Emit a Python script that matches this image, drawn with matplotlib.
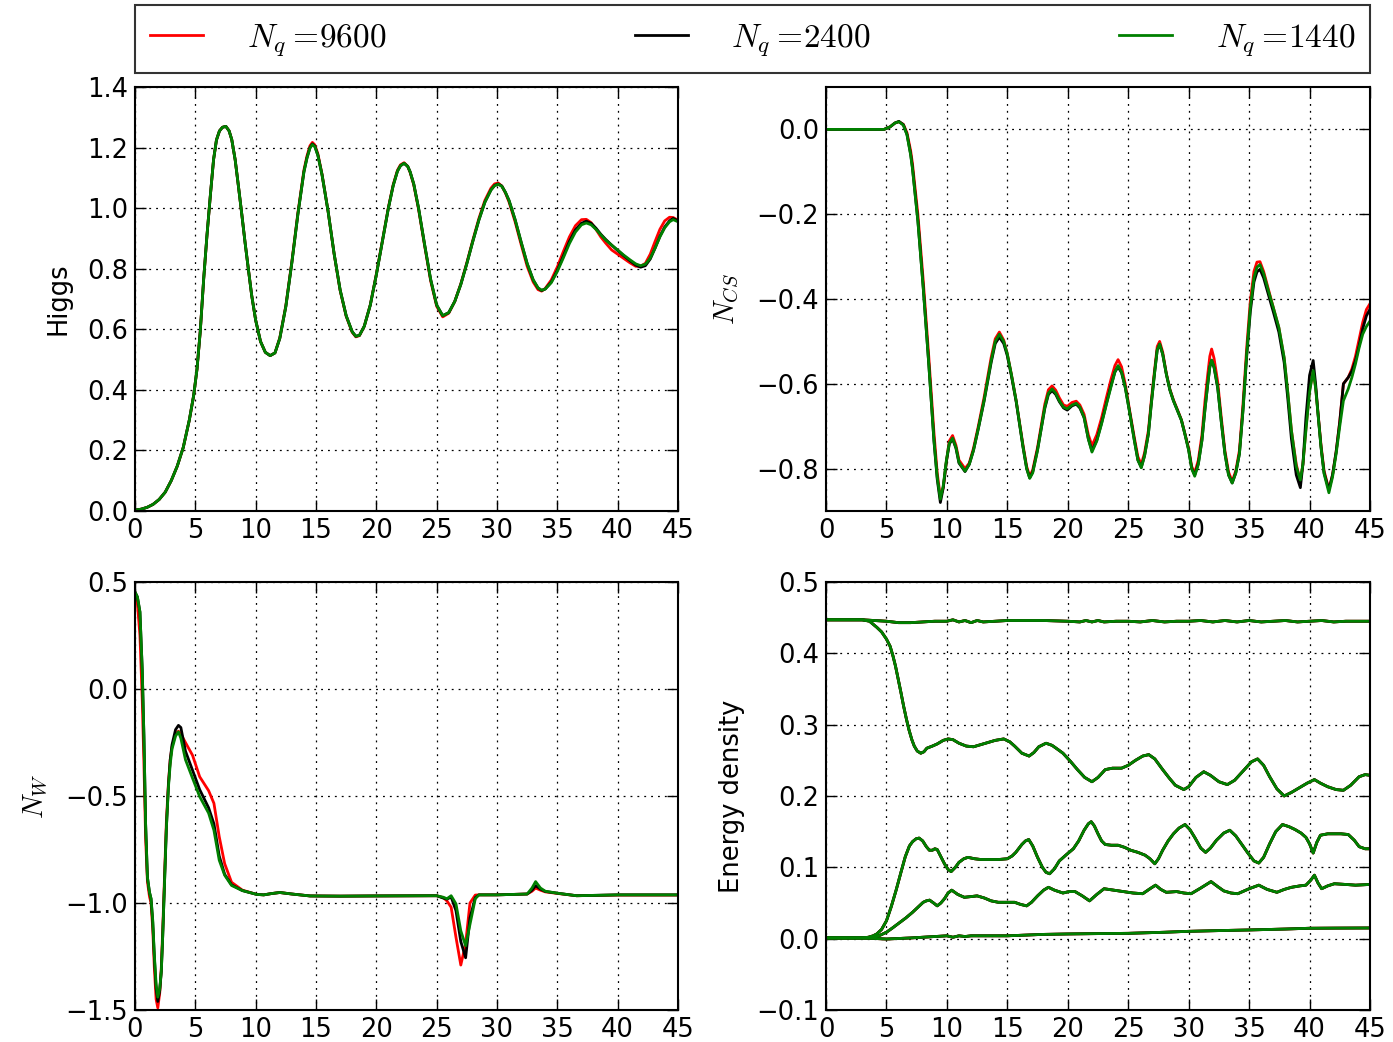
import matplotlib
matplotlib.use("Agg")
from matplotlib import pyplot as plt

plt.rcParams['mathtext.fontset'] = 'cm'
plt.rcParams['font.family'] = ['DejaVu Sans']

labels = ['$N_q =\\!9600$', '$N_q =\\!2400$', '$N_q =\\!1440$']
colors = ['red', 'black', 'green']

# ---------------- Higgs ----------------
t_higgs = [0, 0.5, 1, 1.5, 2, 2.5, 3, 3.5, 4, 4.5, 4.86, 5.14, 5.41, 5.69, 5.96, 6.24, 6.51, 6.75, 7.0, 7.25, 7.53,
           7.8, 8.02, 8.3, 8.57, 8.85, 9.12, 9.4, 9.67, 10.0, 10.4, 10.8, 11.2, 11.6, 12.0, 12.5, 13.0, 13.5, 14.0,
           14.25, 14.5, 14.7, 14.9, 15.15, 15.5, 16.0, 16.5, 17.0, 17.5, 18.0, 18.3, 18.6, 19.0, 19.5, 20.0, 20.5, 21.0,
           21.4, 21.75, 22.0, 22.3, 22.6, 22.8, 23.1, 23.5, 24.0, 24.5, 25.0, 25.5, 26.0, 26.5, 27.0, 27.5, 28.0, 28.5,
           29.0, 29.5, 29.8, 30.1, 30.4, 30.7, 31.0, 31.5, 32.0, 32.5, 33.0, 33.4, 33.7, 34.0, 34.5, 35.0, 35.5, 36.0,
           36.5, 37.0, 37.4, 37.8, 38.2, 38.6, 39.0, 39.5, 40.0, 40.5, 41.0, 41.5, 41.9, 42.3, 42.7, 43.1, 43.5, 43.9,
           44.3, 44.6, 45]
higgs_green = [0.003, 0.006, 0.012, 0.022, 0.038, 0.062, 0.1, 0.148, 0.21, 0.3, 0.381, 0.469, 0.594, 0.765, 0.908, 1.04, 1.16, 1.225, 1.255, 1.267, 1.27,
               1.255, 1.226, 1.16, 1.073, 0.98, 0.887, 0.797, 0.712, 0.63, 0.56, 0.524, 0.513, 0.522, 0.57, 0.675, 0.82, 0.98, 1.12,
               1.165, 1.198, 1.21, 1.203, 1.175, 1.11, 0.99, 0.85, 0.73, 0.645, 0.592, 0.577, 0.58, 0.61, 0.68, 0.78, 0.89, 1.0,
               1.075, 1.122, 1.14, 1.148, 1.138, 1.12, 1.08, 1.0, 0.88, 0.765, 0.68, 0.645, 0.655, 0.692, 0.748, 0.817, 0.891, 0.961,
               1.02, 1.06, 1.074, 1.079, 1.072, 1.052, 1.025, 0.962, 0.888, 0.817, 0.763, 0.737, 0.729, 0.733, 0.754, 0.791, 0.836, 0.883,
               0.921, 0.945, 0.951, 0.945, 0.93, 0.912, 0.895, 0.878, 0.862, 0.845, 0.83, 0.816, 0.81, 0.815, 0.835, 0.868, 0.905, 0.935,
               0.955, 0.962, 0.955]
higgs_black = [0.003, 0.006, 0.012, 0.022, 0.038, 0.062, 0.1, 0.148, 0.21, 0.3, 0.381, 0.469, 0.594, 0.765, 0.908, 1.04, 1.16, 1.225, 1.255, 1.267, 1.27,
               1.255, 1.226, 1.16, 1.073, 0.98, 0.887, 0.797, 0.712, 0.63, 0.56, 0.524, 0.513, 0.522, 0.57, 0.675, 0.82, 0.98, 1.12,
               1.166, 1.2, 1.212, 1.205, 1.176, 1.11, 0.99, 0.85, 0.73, 0.645, 0.592, 0.577, 0.58, 0.61, 0.68, 0.78, 0.89, 1.0,
               1.075, 1.122, 1.14, 1.148, 1.138, 1.12, 1.08, 1.0, 0.88, 0.765, 0.68, 0.645, 0.655, 0.692, 0.748, 0.817, 0.891, 0.961,
               1.02, 1.06, 1.075, 1.08, 1.073, 1.052, 1.025, 0.962, 0.888, 0.817, 0.763, 0.736, 0.728, 0.733, 0.756, 0.795, 0.842, 0.89,
               0.928, 0.95, 0.957, 0.95, 0.934, 0.914, 0.897, 0.878, 0.86, 0.843, 0.827, 0.812, 0.805, 0.81, 0.832, 0.868, 0.907, 0.938,
               0.958, 0.966, 0.958]
higgs_red = [0.003, 0.006, 0.012, 0.022, 0.038, 0.062, 0.1, 0.148, 0.21, 0.3, 0.381, 0.469, 0.594, 0.765, 0.908, 1.04, 1.16, 1.225, 1.255, 1.267, 1.27,
             1.255, 1.226, 1.16, 1.073, 0.98, 0.887, 0.797, 0.712, 0.63, 0.56, 0.524, 0.513, 0.522, 0.572, 0.678, 0.824, 0.985, 1.126,
             1.172, 1.206, 1.217, 1.209, 1.18, 1.112, 0.99, 0.849, 0.728, 0.643, 0.59, 0.575, 0.579, 0.61, 0.681, 0.782, 0.892, 1.003,
             1.078, 1.125, 1.143, 1.15, 1.138, 1.118, 1.077, 0.996, 0.876, 0.76, 0.676, 0.641, 0.653, 0.692, 0.75, 0.82, 0.895, 0.966,
             1.026, 1.066, 1.08, 1.083, 1.073, 1.05, 1.02, 0.955, 0.88, 0.808, 0.756, 0.731, 0.726, 0.735, 0.763, 0.806, 0.857, 0.905,
             0.942, 0.962, 0.963, 0.952, 0.93, 0.905, 0.885, 0.862, 0.848, 0.834, 0.82, 0.808, 0.808, 0.818, 0.848, 0.89, 0.93, 0.958,
             0.97, 0.969, 0.96]

# ---------------- N_CS ----------------
t_ncs = [0, 2, 4, 4.8, 5.3, 5.7, 6.03, 6.4, 6.7, 7.0, 7.15, 7.6, 8.04, 8.5, 8.93, 9.2, 9.46, 9.7, 9.96,
         10.2, 10.47, 10.75, 11.0, 11.5, 11.85, 12.2, 12.6, 13.07, 13.66, 14.0, 14.34, 14.7, 15.0, 15.35,
         15.73, 16.3, 16.6, 16.85, 17.1, 17.5, 18.1, 18.4, 18.7, 19.0, 19.3, 19.65, 19.96, 20.35, 20.7,
         21.0, 21.35, 21.7, 22.0, 22.4, 22.8, 23.2, 23.57, 23.9, 24.16, 24.45, 24.75, 25.1, 25.5, 25.8,
         26.08, 26.35, 26.67, 26.9, 27.17, 27.4, 27.6, 27.85, 28.15, 28.45, 28.74, 29.1, 29.4, 29.7, 30.0,
         30.25, 30.5, 30.8, 31.1, 31.35, 31.55, 31.75, 31.9, 32.1, 32.4, 32.7, 33.0, 33.3, 33.6, 33.9,
         34.2, 34.5, 34.8, 35.1, 35.4, 35.65, 35.9, 36.2, 36.6, 37.0, 37.46, 37.9, 38.2, 38.5, 38.9,
         39.24, 39.45, 39.7, 40.0, 40.3, 40.5, 40.7, 40.95, 41.2, 41.6, 41.9, 42.2, 42.5, 42.8, 43.2,
         43.5, 43.8, 44.1, 44.4, 44.7, 45.0]
ncs_green = [0.0, 0.0, 0.0, 0.0, 0.006, 0.015, 0.018, 0.01, -0.013, -0.06, -0.092, -0.217, -0.373, -0.553, -0.733, -0.82, -0.872, -0.84, -0.78,
             -0.74, -0.728, -0.75, -0.785, -0.806, -0.79, -0.757, -0.705, -0.64, -0.546, -0.5, -0.483, -0.5, -0.53, -0.58,
             -0.64, -0.749, -0.8, -0.823, -0.81, -0.757, -0.655, -0.622, -0.612, -0.622, -0.64, -0.655, -0.659, -0.65, -0.646,
             -0.655, -0.679, -0.73, -0.761, -0.735, -0.694, -0.648, -0.608, -0.572, -0.557, -0.572, -0.608, -0.665, -0.733, -0.78,
             -0.798, -0.77, -0.718, -0.65, -0.577, -0.52, -0.506, -0.53, -0.577, -0.615, -0.64, -0.665, -0.686, -0.72, -0.757,
             -0.8, -0.818, -0.79, -0.733, -0.66, -0.608, -0.56, -0.544, -0.56, -0.608, -0.69, -0.765, -0.815, -0.834, -0.81,
             -0.765, -0.66, -0.53, -0.42, -0.35, -0.325, -0.319, -0.34, -0.381, -0.42, -0.467, -0.538, -0.62, -0.71, -0.795,
             -0.827, -0.79, -0.71, -0.62, -0.569, -0.61, -0.671, -0.75, -0.812, -0.857, -0.82, -0.765, -0.7, -0.64, -0.612,
             -0.585, -0.553, -0.515, -0.483, -0.465, -0.452]
ncs_black = [0.0, 0.0, 0.0, 0.0, 0.006, 0.015, 0.019, 0.011, -0.012, -0.058, -0.09, -0.215, -0.372, -0.553, -0.735, -0.825, -0.88, -0.845, -0.783,
             -0.742, -0.73, -0.752, -0.787, -0.807, -0.79, -0.757, -0.706, -0.642, -0.55, -0.505, -0.49, -0.505, -0.534, -0.583,
             -0.642, -0.75, -0.8, -0.822, -0.808, -0.755, -0.658, -0.625, -0.616, -0.625, -0.642, -0.657, -0.662, -0.652, -0.648,
             -0.657, -0.68, -0.73, -0.758, -0.733, -0.692, -0.646, -0.605, -0.572, -0.56, -0.574, -0.608, -0.664, -0.732, -0.78,
             -0.797, -0.77, -0.718, -0.65, -0.577, -0.52, -0.507, -0.53, -0.577, -0.615, -0.64, -0.665, -0.686, -0.72, -0.756,
             -0.8, -0.815, -0.788, -0.733, -0.66, -0.608, -0.56, -0.545, -0.562, -0.61, -0.69, -0.765, -0.815, -0.834, -0.81,
             -0.765, -0.66, -0.535, -0.43, -0.36, -0.336, -0.33, -0.35, -0.39, -0.43, -0.478, -0.55, -0.635, -0.73, -0.815,
             -0.845, -0.79, -0.68, -0.58, -0.545, -0.6, -0.67, -0.75, -0.81, -0.85, -0.815, -0.76, -0.69, -0.6, -0.585,
             -0.57, -0.545, -0.51, -0.47, -0.44, -0.424]
ncs_red = [0.0, 0.0, 0.0, 0.0, 0.006, 0.015, 0.018, 0.012, -0.008, -0.05, -0.08, -0.2, -0.355, -0.535, -0.715, -0.81, -0.868, -0.845, -0.783,
           -0.735, -0.722, -0.745, -0.78, -0.8, -0.787, -0.752, -0.7, -0.633, -0.538, -0.494, -0.478, -0.497, -0.53, -0.58,
           -0.64, -0.745, -0.795, -0.818, -0.803, -0.75, -0.648, -0.614, -0.605, -0.615, -0.633, -0.65, -0.653, -0.644, -0.641,
           -0.65, -0.672, -0.72, -0.746, -0.72, -0.68, -0.632, -0.59, -0.557, -0.543, -0.56, -0.6, -0.66, -0.726, -0.772,
           -0.79, -0.763, -0.71, -0.642, -0.57, -0.512, -0.5, -0.525, -0.575, -0.613, -0.638, -0.663, -0.685, -0.718, -0.752,
           -0.795, -0.81, -0.78, -0.72, -0.64, -0.585, -0.535, -0.518, -0.54, -0.595, -0.68, -0.758, -0.808, -0.83, -0.805,
           -0.757, -0.645, -0.515, -0.405, -0.335, -0.313, -0.312, -0.335, -0.378, -0.42, -0.468, -0.54, -0.622, -0.71, -0.79,
           -0.83, -0.79, -0.705, -0.615, -0.57, -0.608, -0.668, -0.745, -0.805, -0.85, -0.815, -0.76, -0.688, -0.6, -0.585,
           -0.565, -0.535, -0.495, -0.455, -0.425, -0.411]

# ---------------- N_W ----------------
t_nw = [0, 0.2, 0.41, 0.6, 0.74, 0.88, 1.03, 1.2, 1.33, 1.47, 1.6, 1.75, 1.89, 2.05, 2.18, 2.3, 2.48, 2.6, 2.77,
        2.92, 3.07, 3.36, 3.6, 3.8, 4.18, 4.77, 5.36, 6.1, 6.54, 6.98, 7.43, 8.0, 8.9, 10.1, 10.67, 11.3, 12.0,
        13.0, 14.5, 17.0, 20.0, 25.0, 25.55, 25.85, 26.2, 26.6, 27.0, 27.4, 27.76, 28.2, 28.5, 30.0, 32.5,
        32.9, 33.2, 33.6, 34.0, 35.1, 36.6, 40.0, 45.0]
nw_green = [0.453, 0.43, 0.36, 0.09, -0.22, -0.63, -0.88, -0.95, -0.98, -1.08, -1.24, -1.38, -1.44, -1.4, -1.32, -1.15, -0.85, -0.65, -0.46,
            -0.35, -0.28, -0.22, -0.2, -0.23, -0.33, -0.417, -0.503, -0.58, -0.66, -0.8, -0.87, -0.918, -0.942, -0.96, -0.962, -0.956, -0.951,
            -0.958, -0.967, -0.968, -0.967, -0.966, -0.973, -0.98, -0.966, -1.004, -1.13, -1.2, -1.1, -0.98, -0.962, -0.962, -0.958,
            -0.93, -0.9, -0.93, -0.945, -0.955, -0.966, -0.962, -0.962]
nw_black = [0.453, 0.43, 0.36, 0.09, -0.22, -0.63, -0.88, -0.95, -0.98, -1.09, -1.25, -1.4, -1.46, -1.41, -1.32, -1.15, -0.85, -0.65, -0.45,
            -0.33, -0.26, -0.19, -0.17, -0.18, -0.29, -0.38, -0.47, -0.555, -0.63, -0.78, -0.866, -0.915, -0.942, -0.96, -0.962, -0.956, -0.951,
            -0.958, -0.967, -0.968, -0.967, -0.966, -0.977, -0.982, -0.972, -1.036, -1.18, -1.256, -1.07, -0.975, -0.962, -0.962, -0.958,
            -0.94, -0.919, -0.935, -0.946, -0.955, -0.966, -0.962, -0.962]
nw_red = [0.45, 0.4, 0.25, -0.05, -0.35, -0.7, -0.9, -0.97, -1.0, -1.12, -1.3, -1.45, -1.49, -1.42, -1.3, -1.12, -0.82, -0.62, -0.44,
          -0.33, -0.27, -0.21, -0.197, -0.21, -0.25, -0.31, -0.41, -0.475, -0.534, -0.69, -0.816, -0.903, -0.94, -0.96, -0.962, -0.956, -0.951,
          -0.958, -0.967, -0.968, -0.967, -0.966, -0.975, -0.99, -1.02, -1.16, -1.29, -1.19, -1.0, -0.963, -0.962, -0.962, -0.958,
          -0.945, -0.93, -0.94, -0.948, -0.956, -0.966, -0.963, -0.963]

# ---------------- Energy density ----------------
t_ea = [0, 3, 5, 6, 7, 8, 9, 10, 10.5, 11, 11.5, 12, 12.5, 13, 15, 18, 20, 21, 21.5, 22, 22.5, 23, 24, 25, 26,
        27, 28, 29, 30, 31, 32, 33, 34, 35, 36, 37, 38, 39, 40, 41, 42, 43, 44, 45]
e_total = [0.447, 0.447, 0.445, 0.443, 0.443, 0.444, 0.445, 0.445, 0.447, 0.444, 0.446, 0.443, 0.446, 0.444, 0.446, 0.446,
           0.445, 0.444, 0.446, 0.444, 0.446, 0.444, 0.445, 0.445, 0.444, 0.446, 0.444, 0.445, 0.445, 0.446, 0.444, 0.446,
           0.444, 0.446, 0.444, 0.445, 0.446, 0.444, 0.445, 0.446, 0.444, 0.445, 0.445, 0.445]

t_eb = [0, 3, 3.6, 4.2, 4.6, 5.0, 5.3, 5.53, 5.75, 5.97, 6.2, 6.42, 6.65, 6.86, 7.1, 7.3, 7.55, 7.84, 8.1, 8.34,
        8.8, 9.2, 9.7, 10.1, 10.5, 11.0, 11.6, 12.2, 12.8, 13.4, 14.0, 14.7, 15.2, 15.6, 16.2, 16.8, 17.2, 17.6,
        18.2, 18.7, 19.2, 19.6, 20.2, 20.8, 21.4, 22.0, 22.5, 23.1, 23.7, 24.45, 25.0, 25.6, 26.2, 26.7, 27.2,
        27.85, 28.4, 28.9, 29.6, 30.0, 30.6, 31.25, 31.8, 32.5, 33.2, 33.8, 34.5, 35.2, 35.7, 36.2, 36.7, 37.3,
        37.9, 38.5, 39.2, 39.8, 40.4, 40.9, 41.5, 42.2, 42.8, 43.4, 44.1, 44.6, 45]
e_b = [0.447, 0.447, 0.445, 0.4365, 0.43, 0.42, 0.41, 0.397, 0.382, 0.364, 0.345, 0.326, 0.308, 0.293, 0.279, 0.27, 0.263, 0.26, 0.262, 0.267,
       0.27, 0.273, 0.278, 0.28, 0.279, 0.274, 0.27, 0.269, 0.272, 0.275, 0.278, 0.28, 0.276, 0.27, 0.26, 0.256, 0.261, 0.269,
       0.274, 0.271, 0.265, 0.26, 0.249, 0.237, 0.226, 0.22, 0.226, 0.237, 0.239, 0.239, 0.243, 0.25, 0.256, 0.258, 0.252,
       0.237, 0.225, 0.215, 0.209, 0.213, 0.226, 0.234, 0.229, 0.22, 0.216, 0.222, 0.235, 0.248, 0.252, 0.243, 0.227, 0.21,
       0.2, 0.205, 0.212, 0.218, 0.223, 0.218, 0.213, 0.209, 0.208, 0.215, 0.227, 0.23, 0.229]

t_ec = [0, 3.0, 3.5, 3.9, 4.2, 4.6, 5.0, 5.4, 5.8, 6.2, 6.56, 6.9, 7.16, 7.45, 7.7, 8.0, 8.3, 8.55, 8.8, 9.0, 9.2, 9.5,
        9.8, 10.1, 10.35, 10.7, 11.0, 11.4, 11.74, 12.3, 12.8, 13.5, 14.3, 15.0, 15.4, 15.7, 16.2, 16.5, 16.77, 17.1,
        17.5, 17.9, 18.2, 18.5, 18.9, 19.3, 19.9, 20.46, 20.9, 21.35, 21.7, 21.94, 22.2, 22.5, 22.8, 23.1, 23.6, 24.16,
        24.7, 25.2, 25.8, 26.4, 26.8, 27.2, 27.5, 27.85, 28.3, 28.74, 29.2, 29.7, 30.1, 30.5, 31.0, 31.4, 31.8, 32.3,
        32.9, 33.4, 33.9, 34.36, 34.9, 35.4, 35.8, 36.2, 36.7, 37.2, 37.76, 38.3, 38.8, 39.3, 39.7, 40.0, 40.3, 40.6,
        40.9, 41.5, 42.0, 42.6, 43.2, 43.7, 44.1, 44.6, 45]
e_c = [0.001, 0.001, 0.002, 0.004, 0.0066, 0.013, 0.025, 0.045, 0.068, 0.093, 0.115, 0.13, 0.136, 0.14, 0.141, 0.137, 0.129, 0.124, 0.124, 0.126, 0.125, 0.115,
       0.105, 0.097, 0.094, 0.1, 0.107, 0.112, 0.114, 0.112, 0.111, 0.111, 0.111, 0.112, 0.116, 0.121, 0.132, 0.137, 0.139, 0.13,
       0.114, 0.1, 0.093, 0.091, 0.098, 0.109, 0.118, 0.126, 0.137, 0.152, 0.161, 0.164, 0.158, 0.147, 0.137, 0.132, 0.131, 0.131,
       0.128, 0.124, 0.121, 0.117, 0.112, 0.105, 0.112, 0.124, 0.137, 0.147, 0.155, 0.16, 0.153, 0.142, 0.127, 0.121, 0.127, 0.138,
       0.148, 0.152, 0.144, 0.133, 0.12, 0.109, 0.106, 0.114, 0.133, 0.15, 0.16, 0.157, 0.153, 0.148, 0.142, 0.133, 0.12, 0.135,
       0.145, 0.147, 0.147, 0.147, 0.146, 0.138, 0.129, 0.126, 0.126]

t_ed = [0, 3.5, 4.0, 4.5, 5.0, 5.5, 5.97, 6.6, 7.16, 7.6, 8.04, 8.3, 8.57, 8.9, 9.2, 9.5, 9.8, 10.1, 10.4, 10.9, 11.44,
        12.0, 12.5, 13.1, 13.66, 14.25, 15.0, 15.6, 16.1, 16.6, 17.0, 17.5, 18.0, 18.4, 18.9, 19.6, 20.1, 20.6, 21.2,
        21.8, 22.4, 23.0, 23.8, 24.6, 25.4, 26.2, 26.8, 27.26, 27.7, 28.15, 29.0, 29.6, 30.2, 31.0, 31.85, 32.4, 32.9,
        33.5, 34.06, 35.0, 35.8, 36.5, 37.3, 37.9, 38.5, 39.2, 39.7, 40.1, 40.4, 40.7, 41.0, 41.5, 42.05, 43.0, 43.8, 45]
e_d = [0.001, 0.001, 0.002, 0.005, 0.009, 0.015, 0.021, 0.029, 0.037, 0.044, 0.051, 0.053, 0.054, 0.05, 0.046, 0.05, 0.056, 0.064, 0.068, 0.062, 0.058,
       0.059, 0.06, 0.057, 0.053, 0.051, 0.051, 0.051, 0.048, 0.046, 0.051, 0.06, 0.068, 0.072, 0.068, 0.064, 0.066, 0.066, 0.06,
       0.053, 0.062, 0.07, 0.068, 0.066, 0.064, 0.063, 0.07, 0.075, 0.069, 0.065, 0.066, 0.064, 0.063, 0.071, 0.08, 0.073, 0.067,
       0.064, 0.063, 0.07, 0.075, 0.069, 0.065, 0.069, 0.072, 0.074, 0.075, 0.082, 0.089, 0.078, 0.07, 0.074, 0.077, 0.076, 0.075, 0.076]

t_ee = [0, 3, 5, 7, 8, 9, 10, 10.5, 11, 11.5, 12, 15, 18, 20, 22, 25, 28, 30, 33, 35, 38, 40, 42, 45]
e_e = [0.001, 0.001, -0.0005, 0.001, 0.002, 0.003, 0.004, 0.002, 0.004, 0.003, 0.004, 0.004, 0.006, 0.0066, 0.007,
       0.0075, 0.009, 0.0103, 0.0115, 0.0122, 0.0135, 0.0146, 0.0148, 0.015]

W, H = 1393, 1042
fig = plt.figure(figsize=(W / 100, H / 100), dpi=100)

def rect(x0, y0, x1, y1):
    return [x0 / W, 1 - y1 / H, (x1 - x0) / W, (y1 - y0) / H]

ax1 = fig.add_axes(rect(135, 87, 678, 511))
ax2 = fig.add_axes(rect(826, 87, 1370, 511))
ax3 = fig.add_axes(rect(135, 582, 678, 1010))
ax4 = fig.add_axes(rect(826, 582, 1370, 1010))

fs = 18.5
lw = 2.0

def style(ax):
    ax.set_xlim(0, 45)
    ax.set_xticks(range(0, 46, 5))
    ax.tick_params(direction='in', top=True, right=True, length=8, width=1, labelsize=fs, pad=5)
    ax.grid(True, color='black', linestyle=(0, (1.5, 4)), linewidth=0.9)
    ax.set_axisbelow(True)
    for s in ax.spines.values():
        s.set_linewidth(1.5)

handles = []
for vals, c, lab in zip([higgs_red, higgs_black, higgs_green], colors, labels):
    h, = ax1.plot(t_higgs, vals, color=c, lw=lw, label=lab)
    handles.append(h)
ax1.set_ylim(0, 1.4)
ax1.set_yticks([0, 0.2, 0.4, 0.6, 0.8, 1.0, 1.2, 1.4])
ax1.set_ylabel('Higgs', fontsize=fs, labelpad=11)

for vals, c in zip([ncs_red, ncs_black, ncs_green], colors):
    ax2.plot(t_ncs, vals, color=c, lw=lw)
ax2.set_ylim(-0.9, 0.1)
ax2.set_yticks([-0.8, -0.6, -0.4, -0.2, 0.0])
ax2.set_ylabel('$N_{CS}$', fontsize=fs + 2, labelpad=11)

for vals, c in zip([nw_red, nw_black, nw_green], colors):
    ax3.plot(t_nw, vals, color=c, lw=lw)
ax3.set_ylim(-1.5, 0.5)
ax3.set_yticks([-1.5, -1.0, -0.5, 0.0, 0.5])
ax3.set_ylabel('$N_W$', fontsize=fs + 2, labelpad=11)

for c in colors:
    ax4.plot(t_ea, e_total, color=c, lw=lw)
    ax4.plot(t_eb, e_b, color=c, lw=lw)
    ax4.plot(t_ec, e_c, color=c, lw=lw)
    ax4.plot(t_ed, e_d, color=c, lw=lw)
    ax4.plot(t_ee, e_e, color=c, lw=lw)
ax4.set_ylim(-0.1, 0.5)
ax4.set_yticks([-0.1, 0.0, 0.1, 0.2, 0.3, 0.4, 0.5])
ax4.set_ylabel('Energy density', fontsize=fs, labelpad=8)

for ax in [ax1, ax2, ax3, ax4]:
    style(ax)

leg = fig.legend(handles=handles, loc='lower left', ncol=3, mode='expand',
                 bbox_to_anchor=(135 / W, 1 - 73 / H, (1370 - 135) / W, 63 / H),
                 borderaxespad=0, fancybox=False, fontsize=24, handlelength=1.6,
                 handletextpad=1.3, borderpad=0.45)
leg.get_frame().set_edgecolor('black')
leg.get_frame().set_linewidth(1.5)

fig.savefig('out.png', dpi=100, facecolor='white')
